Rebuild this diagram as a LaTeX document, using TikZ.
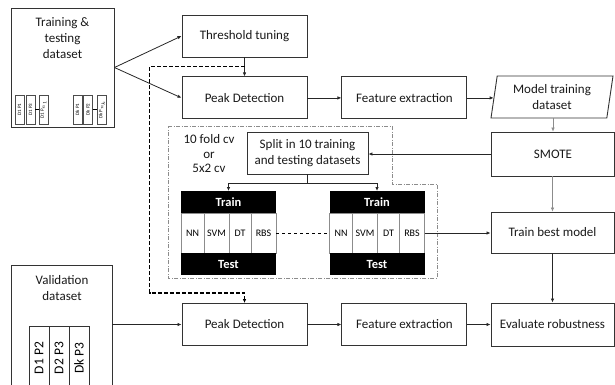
\documentclass[tikz,border=0pt]{standalone}
\usepackage{fontspec}
\setmainfont{Carlito}
\usetikzlibrary{arrows.meta,positioning,shapes.geometric,calc}

\begin{document}
\begin{tikzpicture}[x=1pt,y=-1pt,node distance=34pt,
  txt/.style={align=center,text=black!90,font=\fontsize{13}{16}\selectfont},
  box/.style={txt,draw=black!80,line width=0.9pt,minimum width=125pt,minimum height=42pt,inner sep=2pt},
  rbox/.style={box,minimum width=123pt},
  data/.style={box,trapezium,trapezium left angle=78,trapezium right angle=102,trapezium stretches body,minimum width=122pt},
  hdr/.style={fill=black,text=white,minimum width=95pt,minimum height=22pt,inner sep=0pt,outer sep=0pt,font=\bfseries\fontsize{12.5}{14}\selectfont},
  cell/.style={draw=black!45,fill=white,minimum height=40pt,inner sep=0pt,outer sep=0pt,font=\fontsize{10}{12}\selectfont},
  mini/.style={draw=black!70,line width=0.5pt,minimum width=9pt,minimum height=29pt,inner sep=0pt,font=\fontsize{5}{6}\selectfont},
  vmini/.style={draw=black!80,line width=0.9pt,minimum width=20pt,minimum height=64pt,inner sep=0pt,outer sep=0pt,font=\fontsize{13.5}{16}\selectfont},
  arr/.style={-{Latex[length=4pt,width=3.5pt]},line width=0.8pt,black!85},
  garr/.style={arr,black!45,line width=0.5pt},
  dline/.style={line width=1.3pt,dash pattern=on 4pt off 2pt,-{Latex[length=4pt,width=3.5pt]}}]

\clip (0,0) rectangle (615,384);

% datasets
\node(trn)[draw=black!80,line width=0.9pt,minimum width=103pt,minimum height=119pt] at (62.5,67.5){};

\node(trnl)[txt] at (62.5,38){Training \&\\testing\\dataset};

\node(d1a)[mini] at (19.5,109.5){\rotatebox{90}{D1 P1}};

\node(d1b)[mini] at (30.5,109.5){\rotatebox{90}{D1 P3}};

\node(d1c)[mini] at (43.5,109.5){\rotatebox{90}{D1 P$_{n_1}$}};

\node(dka)[mini] at (77.5,109.5){\rotatebox{90}{Dk P1}};

\node(dkb)[mini] at (88,109.5){\rotatebox{90}{Dk P2}};

\node(dkc)[mini] at (102,109.5){\rotatebox{90}{Dk P$_{n_k}$}};

\draw[line width=0.5pt] (d1b) -- (d1c);

\draw[line width=0.5pt] (dkb) -- (dkc);

\node(val)[draw=black!80,line width=0.9pt,minimum width=101pt,minimum height=135pt] at (61.5,332.5){};

\node(vall)[txt] at (62,288){Validation\\dataset};

\node(v1)[vmini,anchor=north] at (39,326){\rotatebox{90}{D1 P2}};

\node(v2)[vmini,right = 0pt of v1]{\rotatebox{90}{D2 P3}};

\node(v3)[vmini,right = 0pt of v2]{\rotatebox{90}{Dk P3}};

% top row
\node(tt)[box] at (244.5,36){Threshold tuning};

\node(pd1)[box,below = 19pt of tt]{Peak Detection};

\node(fe1)[box,right = of pd1]{Feature extraction};

\node(mtd)[data] at (552,97){Model training\\dataset};

\node(smote)[rbox,minimum height=44pt] at (553,154){SMOTE};

% cross validation
\draw[black!45,line width=0.6pt,dash pattern=on 4pt off 1.5pt on 1pt off 1.5pt] (168,126) -- (392,126) -- (392,184) -- (437,184) -- (437,278) -- (168,278) -- cycle;

\node(cv)[txt,font=\fontsize{13}{14.5}\selectfont] at (209,154){10 fold cv\\or\\5x2 cv};

\node(spl)[box,minimum width=121pt] at (307.5,153){Split in 10 training\\and testing datasets};

\node(tr1)[hdr] at (228.5,202){Train};

\node(nn1)[cell,minimum width=23pt,anchor=north west] at (tr1.south west){NN};

\node(svm1)[cell,minimum width=25pt,right = 0pt of nn1]{SVM};

\node(dt1)[cell,minimum width=22pt,right = 0pt of svm1]{DT};

\node(rbs1)[cell,minimum width=25pt,right = 0pt of dt1]{RBS};

\node(te1)[hdr,anchor=north west] at (nn1.south west){Test};

\node(tr2)[hdr] at (377,202){Train};

\node(nn2)[cell,minimum width=23pt,anchor=north west] at (tr2.south west){NN};

\node(svm2)[cell,minimum width=25pt,right = 0pt of nn2]{SVM};

\node(dt2)[cell,minimum width=22pt,right = 0pt of svm2]{DT};

\node(rbs2)[cell,minimum width=25pt,right = 0pt of dt2]{RBS};

\node(te2)[hdr,anchor=north west] at (nn2.south west){Test};

\node(tbm)[rbox,minimum height=41pt] at (552.5,232.5){Train best model};

% bottom row
\node(pd2)[box] at (244.5,324.5){Peak Detection};

\node(fe2)[box,right = of pd2]{Feature extraction};

\node(er)[rbox,minimum height=43pt] at (552.5,324.5){Evaluate robustness};

% connectors
\draw[arr] (trn.east) -- (tt.west);

\draw[arr] (trn.east) -- (pd1.west);

\draw[arr] (tt.south) -- (pd1.north);

\coordinate(j) at ($(tt.south)!0.47!(pd1.north)$);

\draw[dline] (j) -- ++(-95,0) |- ([yshift=10pt]pd2.north) -- (pd2.north);

\draw[arr] (pd1) -- (fe1);

\draw[arr] (fe1.east) -- (fe1.east -| mtd.west);

\draw[garr] (mtd.south -| smote.north) -- (smote.north);

\draw[arr] (smote.west) -- (smote.west -| spl.east);

\draw[arr] (spl.south) -- ++(0,9) -| (tr1.north);

\draw[arr] (spl.south) -- ++(0,9) -| (tr2.north);

\draw[line width=0.9pt,dashed] (rbs1.east) -- (nn2.west);

\draw[arr] (rbs2.east) -- (rbs2.east -| tbm.west);

\draw[garr] (smote.south -| tbm.north) -- (tbm.north);

\draw[arr] (tbm) -- (er);

\draw[arr] (val.east |- pd2.west) -- (pd2.west);

\draw[arr] (pd2) -- (fe2);

\draw[arr] (fe2) -- (er);

\end{tikzpicture}
\end{document}
